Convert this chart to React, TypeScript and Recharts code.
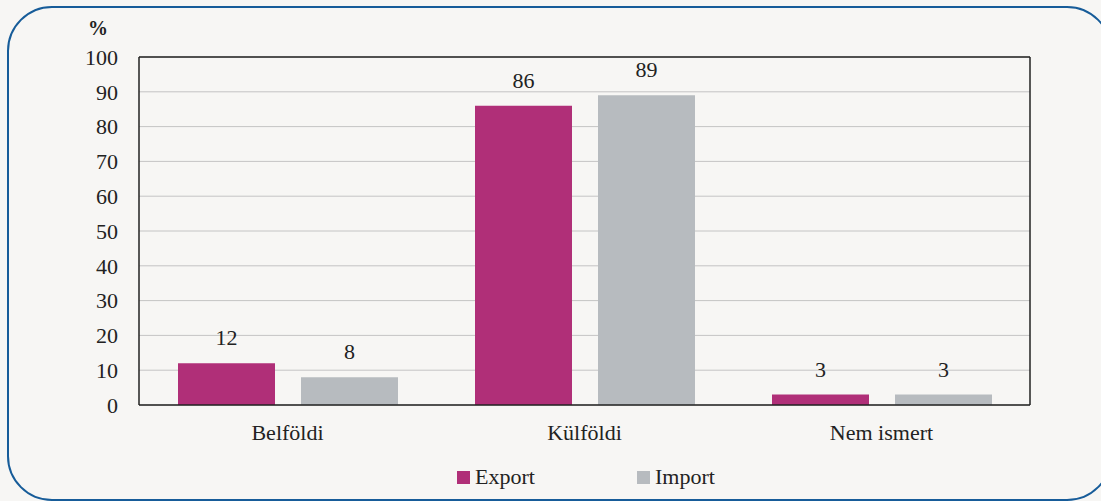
import { BarChart, Bar, XAxis, YAxis, CartesianGrid, LabelList, Legend } from "recharts";

const categories = ["Belföldi", "Külföldi", "Nem ismert"];
const exportValues = [12, 86, 3];
const importValues = [8, 89, 3];
const yTicks = [0, 10, 20, 30, 40, 50, 60, 70, 80, 90, 100];

const data = categories.map((name, i) => ({
  name,
  Export: exportValues[i],
  Import: importValues[i],
}));

const FONT = "Liberation Serif";
const FS = 22;
const EXPORT_COLOR = "#b02f78";
const IMPORT_COLOR = "#b7bbbf";
const INK = "#222";

function LegendContent() {
  const items = [
    { name: "Export", color: EXPORT_COLOR, width: 180 },
    { name: "Import", color: IMPORT_COLOR, width: undefined },
  ];
  return (
    <div
      style={{
        display: "flex",
        justifyContent: "center",
        alignItems: "center",
        height: 24,
        paddingLeft: 71,
        fontFamily: FONT,
        fontSize: FS,
        color: INK,
      }}
    >
      {items.map((it) => (
        <div key={it.name} style={{ display: "flex", alignItems: "center", width: it.width }}>
          <span style={{ width: 13, height: 13, background: it.color, marginRight: 5 }} />
          <span>{it.name}</span>
        </div>
      ))}
    </div>
  );
}

export default function App() {
  return (
    <div
      style={{
        position: "absolute",
        left: 0,
        top: 0,
        width: 1101,
        height: 501,
        overflow: "hidden",
        background: "#f7f6f4",
        fontFamily: FONT,
      }}
    >
      <div
        style={{
          position: "absolute",
          left: 7,
          top: 6,
          width: 1105,
          height: 495,
          border: "2px solid #175c99",
          borderRadius: 45,
          boxSizing: "border-box",
        }}
      />
      <span
        style={{
          position: "absolute",
          left: 88,
          top: 17,
          fontSize: 20,
          fontWeight: "bold",
          color: INK,
        }}
      >
        %
      </span>
      <BarChart
        width={1101}
        height={501}
        data={data}
        margin={{ top: 57, right: 71, bottom: 12, left: 0 }}
        barSize={97}
        barGap={26}
        style={{ position: "absolute", left: 0, top: 0 }}
      >
        <CartesianGrid vertical={false} stroke="#c4c4c4" strokeWidth={1} />
        {/* close the plot frame on the top and right */}
        <CartesianGrid
          stroke={INK}
          strokeWidth={1.5}
          horizontalCoordinatesGenerator={({ offset }: any) => [offset.top]}
          verticalCoordinatesGenerator={({ offset }: any) => [offset.left + offset.width]}
        />
        <XAxis
          dataKey="name"
          height={60}
          tickLine={false}
          tickSize={0}
          tickMargin={19}
          axisLine={{ stroke: INK, strokeWidth: 1.5 }}
          tick={{ fill: INK, fontSize: FS, fontFamily: FONT }}
        />
        <YAxis
          width={139}
          domain={[0, 100]}
          ticks={yTicks}
          interval={0}
          tickLine={false}
          tickSize={0}
          tickMargin={21}
          axisLine={{ stroke: INK, strokeWidth: 1.5 }}
          tick={{ fill: INK, fontSize: FS, fontFamily: FONT }}
        />
        <Legend verticalAlign="bottom" wrapperStyle={{ left: 0, width: 1101, bottom: 12 }} content={LegendContent} />
        <Bar dataKey="Export" fill={EXPORT_COLOR} isAnimationActive={false}>
          <LabelList dataKey="Export" position="top" offset={18} fill={INK} fontSize={FS} fontFamily={FONT} />
        </Bar>
        <Bar dataKey="Import" fill={IMPORT_COLOR} isAnimationActive={false}>
          <LabelList dataKey="Import" position="top" offset={18} fill={INK} fontSize={FS} fontFamily={FONT} />
        </Bar>
      </BarChart>
    </div>
  );
}
